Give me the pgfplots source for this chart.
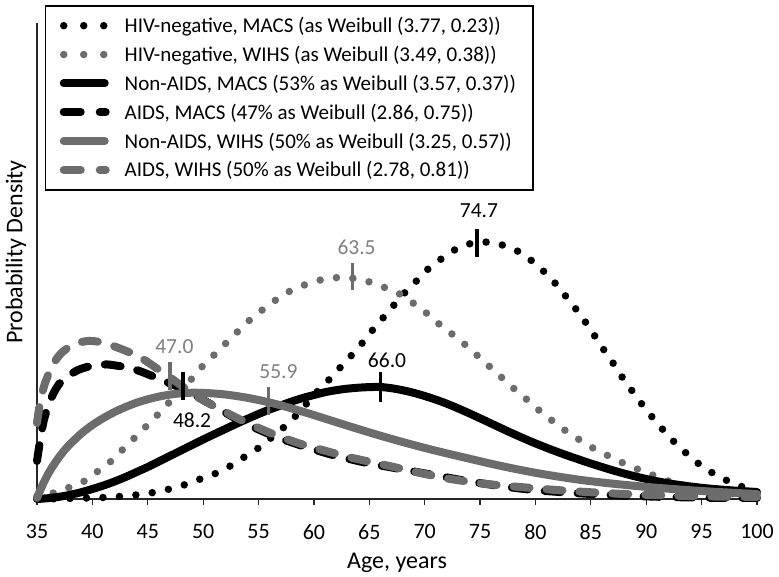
\documentclass[border=0pt]{standalone}
\usepackage{fontspec}
\setmainfont{Carlito}
\usepackage{pgfplots}
\pgfplotsset{compat=1.18}
\definecolor{mygray}{RGB}{108,108,108}
\definecolor{labgray}{RGB}{128,128,128}
\pgfplotsset{
  dotlegend/.style={legend image code/.code={\draw[##1, dash pattern=on 0bp off 20bp] (0bp,0bp) -- (40.5bp,0bp);}},
  dashlegend/.style={legend image code/.code={\draw[##1, dash pattern=on 17bp off 19bp] (0bp,0bp) -- (42bp,0bp);}},
}
\begin{document}
\begin{tikzpicture}
\useasboundingbox (-37bp,-78bp) rectangle (742bp,499bp);
\begin{axis}[
  at={(0,0)}, anchor=south west,
  scale only axis, width=720bp, height=476bp,
  xmin=35, xmax=100, ymin=0, ymax=476,
  axis lines=left, axis line style={-, line width=1.2bp, black!85},
  xtick={35,40,...,100}, ytick=\empty,
  tick align=outside, major tick length=6bp,
  xtick style={line width=1.2bp, black!85},
  /pgf/number format/assume math mode=true,
  xticklabel style={font=\fontsize{22bp}{26bp}\selectfont, yshift=-16bp},
  xlabel={Age, years}, ylabel={Probability Density},
  xlabel style={font=\fontsize{24bp}{28bp}\selectfont, at={(axis description cs:0.5,-0.135)}, anchor=center},
  ylabel style={font=\fontsize{24bp}{28bp}\selectfont, at={(axis description cs:-0.0292,0.519)}, anchor=center},
  clip=false,
  legend style={at={(axis description cs:0.0111,1.0378)}, anchor=north west,
    draw=black, line width=1.5bp, font=\fontsize{21bp}{25bp}\selectfont,
    inner xsep=14bp, inner ysep=8.5bp, row sep=6bp, column sep=12bp,
    nodes={inner sep=3bp}},
  legend cell align=left,
  legend image code/.code={\draw[#1] (0bp,0bp) -- (41bp,0bp);},
]
\addplot[black, line width=7.5bp, line cap=round, dash pattern=on 0bp off 16.5bp, smooth, tension=0.4, dotlegend]
coordinates {(35,0)(37,0.3)(39,0.8)(41,1.5)(43,3)(45,5.5)(47,10)(48,13)(49,17)(50,21)(51,25)(52,30)(53,37)(54,44)(55,51)(56,60)(57,69)(58,79)(59,91)(60,104)(61,115)(62,127)(63,139)(64,151)(65,165)(66,178)(67,191)(68,204)(69,215)(70,227)(71,236)(72,244)(73,251)(74,255)(75,257)(76,256.5)(77,254)(78,250)(79,244)(80,235)(81,225)(82,213)(83,199)(84,185)(85,169)(86,152)(87,136)(88,119)(89,104)(90,89)(91,76)(92,63)(93,52)(94,42)(95,33)(96,26)(97,20)(98,15)(99,11)(100,8)};
\addlegendentry{HIV-negative, MACS (as Weibull (3.77, 0.23))}
\addplot[mygray, line width=7.5bp, line cap=round, dash pattern=on 0bp off 16.5bp, smooth, tension=0.4, dotlegend]
coordinates {(35,3)(36.5,6)(38,12)(39.3,18)(40.4,27)(41.6,37)(42.6,48)(43.7,60)(44.7,71)(45.7,82)(46.7,94)(47.8,106)(48.8,118)(49.7,130)(50.8,142)(51.8,153)(52.9,165)(53.9,176)(55.1,187)(56.3,197)(57.5,206)(58.9,213)(60.2,218)(61.6,221)(63.1,221.5)(64.6,218)(65.4,216)(66.7,210)(68.1,203)(69.3,193)(70.5,183)(71.5,173)(72.7,163)(73.8,153)(75.0,141)(76.3,128)(77.4,117)(78.4,107)(79.6,96)(80.7,85)(81.8,76)(83.0,66)(84.3,57)(85.5,49)(86.8,42)(88.1,35)(89.4,29)(90.8,23)(92,18)(94,12)(96,8)(98,5)(100,3)};
\addlegendentry{HIV-negative, WIHS (as Weibull (3.49, 0.38))}
\addplot[black, line width=8bp, line cap=round, smooth, tension=0.4]
coordinates {(35,0)(36,0.8)(37,2.2)(38,4.2)(39,6.8)(40,10)(41,13.5)(42,17.5)(43,22)(44,27)(45,32)(46,37.5)(47,43)(48,48.5)(49,54)(50,59.5)(51,64.8)(52,70)(53,75.2)(54,80.2)(55,85)(56,89.5)(57,93.5)(58,97.5)(59,101)(60,104)(61,106.8)(62,108.8)(63,110.3)(64,111.3)(65,111.9)(66,112)(67,110.8)(68,108.8)(69,106.2)(70,103)(71,99.4)(72,95.3)(73,90.7)(74,85.8)(75,80.7)(76,75.5)(77,70.3)(78,65.2)(79,60.3)(80,55.6)(81,51.2)(82,47)(83,43)(84,39.2)(85,35.5)(86,32)(87,28.6)(88,25.5)(89,22.6)(90,20)(91,17.7)(92,15.7)(93,14)(94,12.5)(95,11.2)(96,10.1)(97,9.2)(98,8.4)(99,7.7)(100,7)};
\addlegendentry{Non-AIDS, MACS (53\% as Weibull (3.57, 0.37))}
\addplot[black, line width=8bp, line cap=round, dash pattern=on 16bp off 17bp, smooth, tension=0.4, dashlegend]
coordinates {(35,38)(35.3,60)(35.6,78)(36,93)(36.5,106)(37,115)(37.7,122)(38.6,128.5)(39.5,132)(40.4,134)(41.4,134.5)(42.4,133)(43.4,131)(44.5,127)(45.5,122.5)(46.7,117)(48.2,110)(49.7,101)(51.2,91.5)(52.7,82)(54.5,72)(56.6,62)(58.7,54)(61.7,44)(64.8,36)(67.8,30)(70.8,24)(73.8,18)(76.8,13)(79.8,9)(82.8,6.5)(85.8,4.5)(88.8,3)(92,2)(96,1.2)(100,1)};
\addlegendentry{AIDS, MACS (47\% as Weibull (2.86, 0.75))}
\addplot[mygray, line width=8bp, line cap=round, smooth, tension=0.4]
coordinates {(35,1)(35.5,14)(36,25)(36.5,34)(37,42)(37.5,49)(38,55)(39,65.5)(40,74)(41,81)(42,87)(43,92)(44,96.3)(45,99.7)(46,102.4)(47,104.4)(48,105.7)(49,106.3)(50,106.1)(51,105.5)(52,104.5)(53,103)(54,101.2)(55,99)(56,96.5)(57,93.7)(58,90.6)(59,87.3)(60,83.9)(61,80.4)(62,76.9)(63,73.4)(64,70)(65,66.6)(66,63.3)(67,60.1)(68,57)(69,54)(70,51.1)(71,48.3)(72,45.6)(73,43)(74,40.4)(75,37.8)(76,35.2)(77,32.8)(78,30.5)(79,28.3)(80,26.2)(81,24.3)(82,22.5)(83,20.8)(84,19.2)(85,17.8)(86,16.5)(87,15.3)(88,14.2)(89,13.1)(90,12.1)(91,11.2)(92,10.3)(93,9.5)(94,8.7)(95,8)(96,7.3)(97,6.7)(98,6.1)(99,5.5)(100,5)};
\addlegendentry{Non-AIDS, WIHS (50\% as Weibull (3.25, 0.57))}
\addplot[mygray, line width=8bp, line cap=round, dash pattern=on 16bp off 17bp, smooth, tension=0.4, dashlegend]
coordinates {(35,76)(35.3,98)(35.7,115)(36.2,129)(36.7,139)(37.2,146)(37.9,152)(38.6,156)(39.6,158)(40.4,157.5)(41.5,154.5)(42.6,150)(43.7,145)(44.7,139)(45.7,131.5)(46.7,124)(47.7,116)(48.7,108)(49.7,100.5)(51.5,90)(52.7,83)(54.2,75)(56.3,65)(58.7,55.5)(61.1,48)(63.5,41)(66.6,33.5)(68,30)(69.6,26)(72.3,20)(75.6,15)(78.6,12)(81.9,9)(84.6,7)(88,5)(92,3.5)(96,2.5)(100,2)};
\addlegendentry{AIDS, WIHS (50\% as Weibull (2.78, 0.81))}
% median markers
\addplot[black, line width=3.5bp, forget plot] coordinates {(74.7,242)(74.7,270)};
\addplot[mygray, line width=3.5bp, forget plot] coordinates {(63.5,209)(63.5,236)};
\addplot[black, line width=3.5bp, forget plot] coordinates {(66,97)(66,127)};
\addplot[mygray, line width=3.5bp, forget plot] coordinates {(55.9,84)(55.9,112)};
\addplot[mygray, line width=3.5bp, forget plot] coordinates {(47,109)(47,137)};
\addplot[black, line width=3.5bp, forget plot] coordinates {(48.2,99)(48.2,127)};
\node[font=\fontsize{21.5bp}{25bp}\selectfont, text=black] at (axis cs:74.9,288.5) {74.7};
\node[font=\fontsize{21.5bp}{25bp}\selectfont, text=labgray] at (axis cs:63.85,252) {63.5};
\node[font=\fontsize{21.5bp}{25bp}\selectfont, text=black] at (axis cs:66.6,139) {66.0};
\node[font=\fontsize{21.5bp}{25bp}\selectfont, text=labgray] at (axis cs:56.8,127) {55.9};
\node[font=\fontsize{21.5bp}{25bp}\selectfont, text=labgray] at (axis cs:47.4,152) {47.0};
\node[font=\fontsize{21.5bp}{25bp}\selectfont, text=black] at (axis cs:49.0,79) {48.2};
\end{axis}
\end{tikzpicture}
\end{document}
